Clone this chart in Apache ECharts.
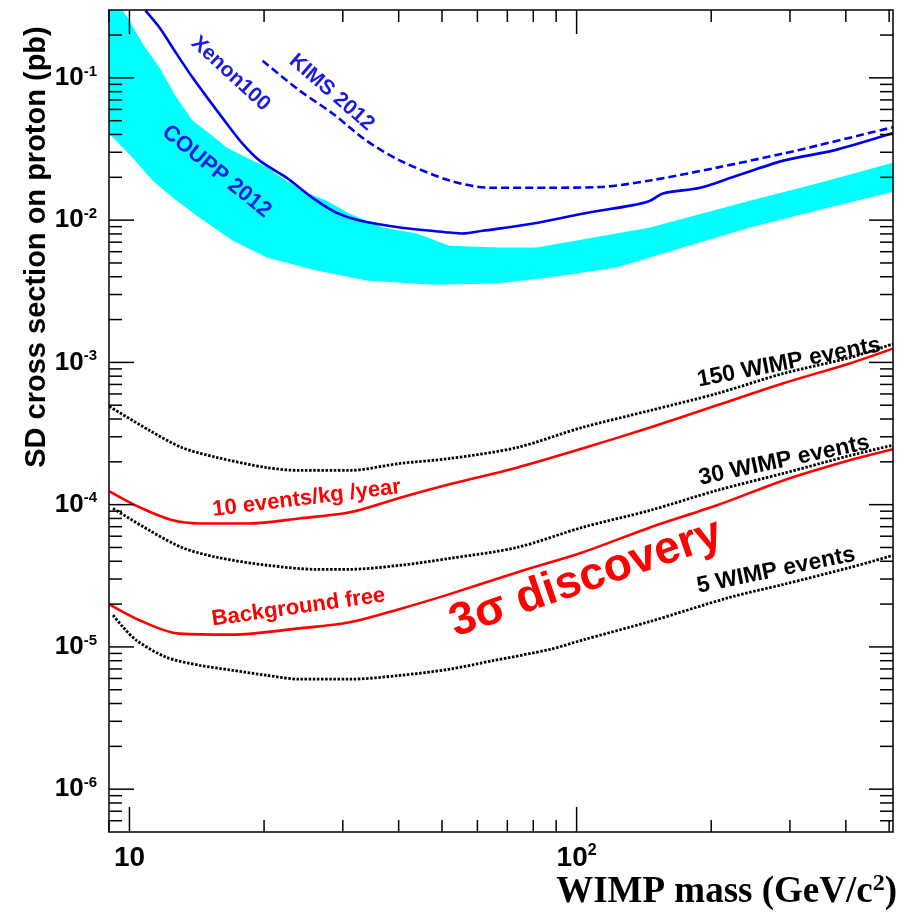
<!DOCTYPE html>
<html>
<head>
<meta charset="utf-8">
<script src="https://cdn.jsdelivr.net/npm/echarts@6/dist/echarts.min.js"></script>
<style>
html,body{margin:0;padding:0;background:#ffffff;}
#chart{width:903px;height:917px;}
</style>
</head>
<body>
<div id="chart"></div>
<script>
// ---------- data (WIMP mass in GeV/c^2, SD cross section in pb) ----------
const coupUpper = [[9,0.3],[9.64,0.3],[10,0.253],[10.7,0.174],[11.68,0.118],[12.74,0.0727],[13.84,0.0501],[15.1,0.0406],[16.5,0.0324],[18.3,0.0275],[20.3,0.0234],[22.4,0.019],[24.9,0.0156],[27.6,0.0137],[31.1,0.0111],[36.8,0.00887],[43.9,0.00805],[52,0.0066],[66.3,0.00643],[81.5,0.00643],[100,0.0072],[146,0.00887],[244,0.0137],[345,0.0181],[510,0.0253]];
const coupLower = [[9,0.0406],[10.16,0.0275],[11.26,0.019],[12.49,0.0144],[14.35,0.0104],[17,0.00719],[20.3,0.00546],[26.2,0.00442],[33.9,0.00376],[47.6,0.00352],[66.3,0.00358],[87.1,0.00395],[123,0.00464],[173,0.00643],[244,0.00887],[345,0.0117],[510,0.0158]];
const xenon100 = [[10.86,0.297],[11.68,0.225],[12.74,0.148],[13.84,0.1005],[15.1,0.0692],[16.5,0.0478],[17.9,0.0345],[19.55,0.0262],[22.4,0.02],[24.0,0.0169],[26.2,0.0137],[29.0,0.0113],[32.7,0.00993],[40.3,0.00887],[52,0.00818],[55.6,0.00805],[61.6,0.00841],[80,0.00946],[103,0.0111],[133,0.0127],[146,0.0137],[156,0.0154],[189,0.0169],[223,0.02],[290,0.0262],[374,0.0308],[510,0.041]];
const kims2012 = [[19.85,0.132],[24.0,0.0815],[28.5,0.056],[33.9,0.0362],[40.3,0.0262],[52,0.019],[64,0.0169],[87.1,0.0169],[113,0.0171],[146,0.019],[206,0.0234],[290,0.0294],[345,0.0334],[510,0.045]];
const wimp150 = [[9.02,4.9e-4],[11.08,3.33e-4],[13.1,2.52e-4],[15.66,2.15e-4],[20.3,1.82e-4],[24,1.74e-4],[31.1,1.74e-4],[40.3,1.95e-4],[52,2.11e-4],[73.5,2.52e-4],[103,3.49e-4],[146,4.59e-4],[206,6.04e-4],[290,8.36e-4],[408,1.08e-3],[510,1.35e-3]];
const events10 = [[9.02,1.24e-4],[10.53,9.58e-5],[12.49,7.76e-5],[14.35,7.38e-5],[18.55,7.38e-5],[24,8.0e-5],[31.1,8.83e-5],[40.3,1.12e-4],[52,1.39e-4],[73.5,1.82e-4],[103,2.48e-4],[146,3.49e-4],[206,4.99e-4],[290,7.13e-4],[408,9.84e-4],[510,1.25e-3]];
const wimp30 = [[9.19,9.4e-5],[11.08,6.6e-5],[13.1,5.0e-5],[15.66,4.27e-5],[20.3,3.75e-5],[26.2,3.51e-5],[31.1,3.51e-5],[40.3,3.75e-5],[52,4.19e-5],[73.5,5.0e-5],[103,6.92e-5],[146,9.12e-5],[206,1.26e-4],[290,1.66e-4],[408,2.21e-4],[510,2.62e-4]];
const backgroundFree = [[9.02,1.99e-5],[10.53,1.54e-5],[12.9,1.24e-5],[17,1.22e-5],[24,1.35e-5],[31.1,1.49e-5],[40.3,1.85e-5],[52,2.35e-5],[73.5,3.34e-5],[103,4.61e-5],[146,6.92e-5],[206,9.89e-5],[290,1.48e-4],[408,2.05e-4],[510,2.45e-4]];
const wimp5 = [[9.19,1.67e-5],[9.67,1.38e-5],[10.37,1.11e-5],[12.1,8.45e-6],[14.35,7.43e-6],[17,6.85e-6],[20.3,6.31e-6],[24,5.93e-6],[31.1,5.93e-6],[40.3,6.31e-6],[52,6.97e-6],[64.9,8.0e-6],[87.1,9.6e-6],[103.3,1.12e-5],[146,1.51e-5],[220,2.23e-5],[290,2.75e-5],[409,3.62e-5],[510,4.4e-5]];

// tick values
const massMajorTicks = [10, 100];
const massMinorTicks = [9, 20, 30, 40, 50, 60, 70, 80, 90, 200, 300, 400, 500];
const sigmaMajorTicks = [1e-6, 1e-5, 1e-4, 1e-3, 1e-2, 1e-1];
const sigmaMinorMultipliers = [2, 3, 4, 5, 6, 7, 8, 9];
const sigmaDecades = [1e-7, 1e-6, 1e-5, 1e-4, 1e-3, 1e-2, 1e-1];

// annotation texts and anchors (data coordinates)
const annotationTexts = ['Xenon100', 'KIMS 2012', 'COUPP 2012', '10 events/kg /year', 'Background free', '3\u03c3 discovery', '150 WIMP events', '30 WIMP events', '5 WIMP events'];
const annotationAnchors = [[16.83,0.107],[28.33,0.0788],[15.66,0.02196],[24.9,1.105e-4],[23.89,1.895e-5],[104.9,3.03e-5],[298.7,9.98e-4],[291.1,2.045e-4],[279.3,3.45e-5]];

// ---------- styles / layout ----------
const X_MIN = 9, X_MAX = 510, Y_MIN = 5e-7, Y_MAX = 0.3;
const BLUE = '#0000f0', TEXTBLUE = '#1a1ae0', RED = '#ff0000', CYAN = '#00ffff';
const SANS = '"Liberation Sans", Arial, Helvetica, sans-serif';
const SERIF = '"Liberation Serif", "Times New Roman", serif';
const annotationStyles = [
  {color: TEXTBLUE, size: 21, weight: 'bold', angle: -42.8},
  {color: TEXTBLUE, size: 21, weight: 'bold', angle: -41},
  {color: TEXTBLUE, size: 22, weight: 'bold', angle: -39},
  {color: RED, size: 22, weight: 'bold', angle: 7},
  {color: RED, size: 22, weight: 'bold', angle: 8},
  {color: RED, size: 46, weight: 'bold', angle: 19},
  {color: '#000', size: 23, weight: 'bold', angle: 11},
  {color: '#000', size: 23, weight: 'bold', angle: 12},
  {color: '#000', size: 23, weight: 'bold', angle: 11.6}
];

const sigmaMinorTicks = [];
sigmaDecades.forEach(d => sigmaMinorMultipliers.forEach(k => {
  const v = d * k;
  if (v > Y_MIN * 1.0001 && v < Y_MAX * 0.9999) sigmaMinorTicks.push(v);
}));

function isPow10(v) {
  const e = Math.log10(v);
  return Math.abs(e - Math.round(e)) < 1e-6 ? Math.round(e) : null;
}

const chart = echarts.init(document.getElementById('chart'), null, {renderer: 'canvas'});

function lineSeries(name, data, color, type, width) {
  return {
    name, type: 'line', data, showSymbol: false, symbol: 'none', smooth: 0.3, silent: true,
    lineStyle: {color, width, type}, z: 3, animation: false
  };
}

const option = {
  animation: false,
  backgroundColor: '#ffffff',
  grid: {left: 109, top: 10, right: 10, bottom: 85, show: false},
  xAxis: {
    type: 'log', logBase: 10, min: X_MIN, max: X_MAX,
    axisLine: {show: false}, axisTick: {show: false}, splitLine: {show: false},
    axisLabel: {
      margin: 11, showMinLabel: false, showMaxLabel: false,
      formatter: v => { const e = isPow10(v); if (e === null) return ''; return e === 1 ? '{b|10}' : '{b|10}{s|' + e + '}'; },
      rich: {
        b: {fontFamily: SANS, fontWeight: 'bold', fontSize: 28, lineHeight: 30, color: '#000'},
        s: {fontFamily: SANS, fontWeight: 'bold', fontSize: 16, lineHeight: 16, verticalAlign: 'top', color: '#000'}
      }
    }
  },
  yAxis: {
    type: 'log', logBase: 10, min: Y_MIN, max: Y_MAX,
    axisLine: {show: false}, axisTick: {show: false}, splitLine: {show: false},
    axisLabel: {
      margin: 12, showMinLabel: false, showMaxLabel: false,
      formatter: v => { const e = isPow10(v); if (e === null) return ''; return '{b|10}{s|' + e + '}'; },
      rich: {
        b: {fontFamily: SANS, fontWeight: 'bold', fontSize: 26, lineHeight: 28, color: '#000'},
        s: {fontFamily: SANS, fontWeight: 'bold', fontSize: 15, lineHeight: 15, verticalAlign: 'top', color: '#000'}
      }
    }
  },
  graphic: [
    {
      type: 'text', x: 37, y: 247, rotation: Math.PI / 2,
      style: {text: 'SD cross section on proton (pb)', font: 'bold 29px ' + SANS, fill: '#000', align: 'center', verticalAlign: 'middle'}
    },
    {
      type: 'text', x: 897, y: 892,
      style: {
        text: '{t|WIMP mass (GeV/c}{u|2}{t|)}', align: 'right', verticalAlign: 'middle',
        rich: {
          t: {fontFamily: SERIF, fontWeight: 'bold', fontSize: 37, lineHeight: 40, fill: '#000'},
          u: {fontFamily: SERIF, fontWeight: 'bold', fontSize: 24, lineHeight: 24, verticalAlign: 'top', fill: '#000'}
        }
      }
    }
  ],
  series: [
    {
      name: 'COUPP 2012', type: 'custom', coordinateSystem: 'cartesian2d', silent: true, z: 1,
      data: [coupUpper[0]],
      renderItem: (params, api) => {
        const pts = coupUpper.map(p => api.coord(p)).concat(coupLower.slice().reverse().map(p => api.coord(p)));
        return {type: 'polygon', shape: {points: pts}, style: {fill: CYAN, stroke: null}};
      }
    },
    lineSeries('Xenon100', xenon100, BLUE, 'solid', 2.6),
    lineSeries('KIMS 2012', kims2012, BLUE, [8, 4], 2.6),
    lineSeries('150 WIMP events', wimp150, '#000', [2.5, 1.6], 2.8),
    lineSeries('10 events/kg /year', events10, RED, 'solid', 2.6),
    lineSeries('30 WIMP events', wimp30, '#000', [2.5, 1.6], 2.8),
    lineSeries('Background free', backgroundFree, RED, 'solid', 2.6),
    lineSeries('5 WIMP events', wimp5, '#000', [2.5, 1.6], 2.8),
    {
      name: 'annotations', type: 'custom', coordinateSystem: 'cartesian2d', silent: true, z: 5,
      data: annotationAnchors.map((a, i) => [a[0], a[1], i]),
      renderItem: (params, api) => {
        const i = api.value(2);
        const p = api.coord([api.value(0), api.value(1)]);
        const s = annotationStyles[i];
        return {
          type: 'text', x: p[0], y: p[1], rotation: s.angle * Math.PI / 180,
          style: {text: annotationTexts[i], fill: s.color, font: s.weight + ' ' + s.size + 'px ' + SANS, align: 'center', verticalAlign: 'middle'}
        };
      }
    },
    {
      name: 'frame', type: 'custom', coordinateSystem: 'cartesian2d', silent: true, z: 10,
      data: [[X_MIN, Y_MIN]],
      renderItem: (params, api) => {
        const cs = params.coordSys;
        const L = cs.x, R = cs.x + cs.width, T = cs.y, B = cs.y + cs.height;
        const ch = [];
        const seg = (x1, y1, x2, y2) => ch.push({type: 'line', shape: {x1, y1, x2, y2}, style: {stroke: '#000', lineWidth: 1.5}});
        massMajorTicks.forEach(m => { const x = api.coord([m, Y_MIN])[0]; seg(x, B, x, B - 25); seg(x, T, x, T + 24); });
        massMinorTicks.forEach(m => { const x = api.coord([m, Y_MIN])[0]; seg(x, B, x, B - 12); seg(x, T, x, T + 12); });
        sigmaMajorTicks.forEach(v => { const y = api.coord([X_MIN, v])[1]; seg(L, y, L + 25, y); seg(R, y, R - 24, y); });
        sigmaMinorTicks.forEach(v => { const y = api.coord([X_MIN, v])[1]; seg(L, y, L + 13, y); seg(R, y, R - 13, y); });
        ch.push({type: 'rect', shape: {x: L, y: T, width: R - L, height: B - T}, style: {fill: null, stroke: '#000', lineWidth: 1.5}});
        return {type: 'group', children: ch};
      }
    }
  ]
};
chart.setOption(option);
</script>
</body>
</html>
